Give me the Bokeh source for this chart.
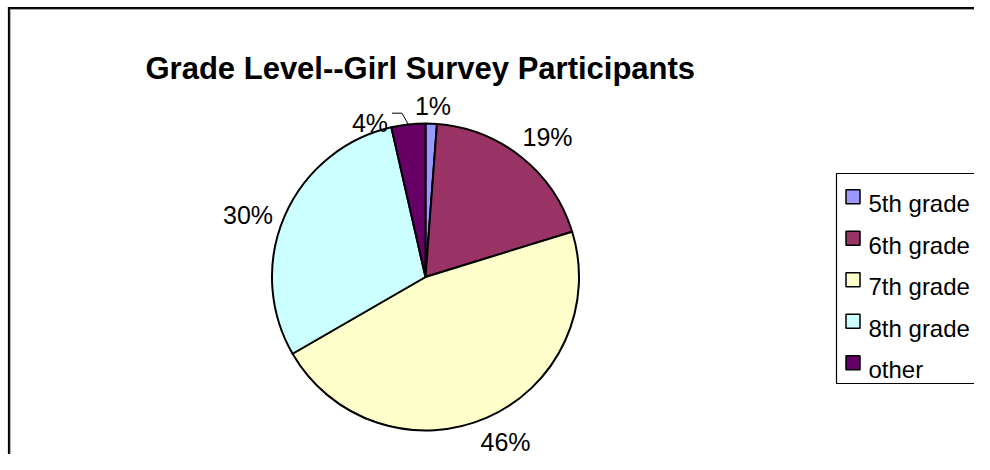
import math
from bokeh.plotting import figure
from bokeh.models import Range1d, ColumnDataSource
from bokeh.core.properties import value
from bokeh.embed import file_html
from bokeh.resources import INLINE

# ---- data ----
title = "Grade Level--Girl Survey Participants"
categories = ["5th grade", "6th grade", "7th grade", "8th grade", "other"]
counts = [1, 16, 39, 25, 3]
colors = ["#9999FF", "#993366", "#FFFFCC", "#CCFFFF", "#660066"]

# ---- layout (figure pixels, origin top-left) ----
W, H = 974, 454
def Y(y):
    return H - y

CX, CY, R = 425, 276.5, 153.5
FONT = "Liberation Sans"
# label centre offsets from pie centre (px), one per slice
label_offsets = [(7.5, -180), (122, -149), (80, 155.5), (-177.5, -71), (-55.5, -163)]
leader_slice = 4

p = figure(width=W, height=H, output_backend="svg", toolbar_location=None,
           x_range=Range1d(0, W), y_range=Range1d(0, H), min_border=0)
p.axis.visible = False
p.grid.visible = False
p.outline_line_color = None
p.background_fill_color = "white"
p.border_fill_color = "white"

# chart border (left and top visible)
p.line([8.5, 8.5], [Y(7), Y(H + 5)], line_color="black", line_width=2.2)
p.line([9.8, 9.8], [Y(9), Y(H + 5)], line_color="#999999", line_width=0.8)
p.line([7.4, W + 5], [Y(7.6), Y(7.6)], line_color="black", line_width=2.2)
p.line([9.4, W + 5], [Y(8.9), Y(8.9)], line_color="#999999", line_width=0.8)

# title
p.text([145], [Y(68)], text=[title], text_font=value(FONT), text_font_size=value("31px"),
       text_font_style="bold", text_baseline="alphabetic", text_align="left", text_color="black")

# pie
total = sum(counts)
fr = [c / total for c in counts]
cum = [0.0]
for f in fr:
    cum.append(cum[-1] + f)
start = [math.pi / 2 - 2 * math.pi * cum[i] for i in range(len(counts))]
end = [math.pi / 2 - 2 * math.pi * cum[i + 1] for i in range(len(counts))]
src = ColumnDataSource(dict(x=[CX] * len(counts), y=[Y(CY)] * len(counts), s=start, e=end, c=colors))
p.wedge(x="x", y="y", radius=R, start_angle="s", end_angle="e", direction="clock",
        fill_color="c", line_color="black", line_width=2, source=src)

# labels
lx, ly, lt = [], [], []
for i, f in enumerate(fr):
    dx, dy = label_offsets[i]
    lx.append(CX + dx)
    ly.append(Y(CY + dy + 9))
    lt.append(f"{round(f * 100)}%")
p.text(lx, ly, text=lt, text_font=value(FONT), text_font_size=value("25px"),
       text_baseline="alphabetic", text_align="center", text_color="black")

# leader line for small slice
mid = 2 * math.pi * (cum[leader_slice] + cum[leader_slice + 1]) / 2
ex, ey = CX + R * math.sin(mid), CY - R * math.cos(mid)
dx, dy = label_offsets[leader_slice]
ax, ay = CX + dx + 22, CY + dy - 0.8
p.line([ax, ax + 10, ex], [Y(ay), Y(ay), Y(ey)], line_color="black", line_width=1)

# legend
LX0, LY0, LY1 = 836, 173, 383
p.quad(left=[LX0], right=[W + 20], top=[Y(LY0)], bottom=[Y(LY1)],
       fill_color="white", line_color="black", line_width=1.2)
row0, step = 203.3, 41.5
sx, tx = 852.5, 868
for i, (cat, col) in enumerate(zip(categories, colors)):
    base = row0 + i * step
    p.rect([sx], [Y(base - 7)], width=14, height=14, fill_color=col, line_color="black", line_width=1.5)
    p.text([tx], [Y(base)], text=[cat], text_font=value(FONT), text_font_size=value("24px"),
           text_baseline="alphabetic", text_align="left", text_color="black")

open("out.html", "w").write(file_html(p, INLINE))
